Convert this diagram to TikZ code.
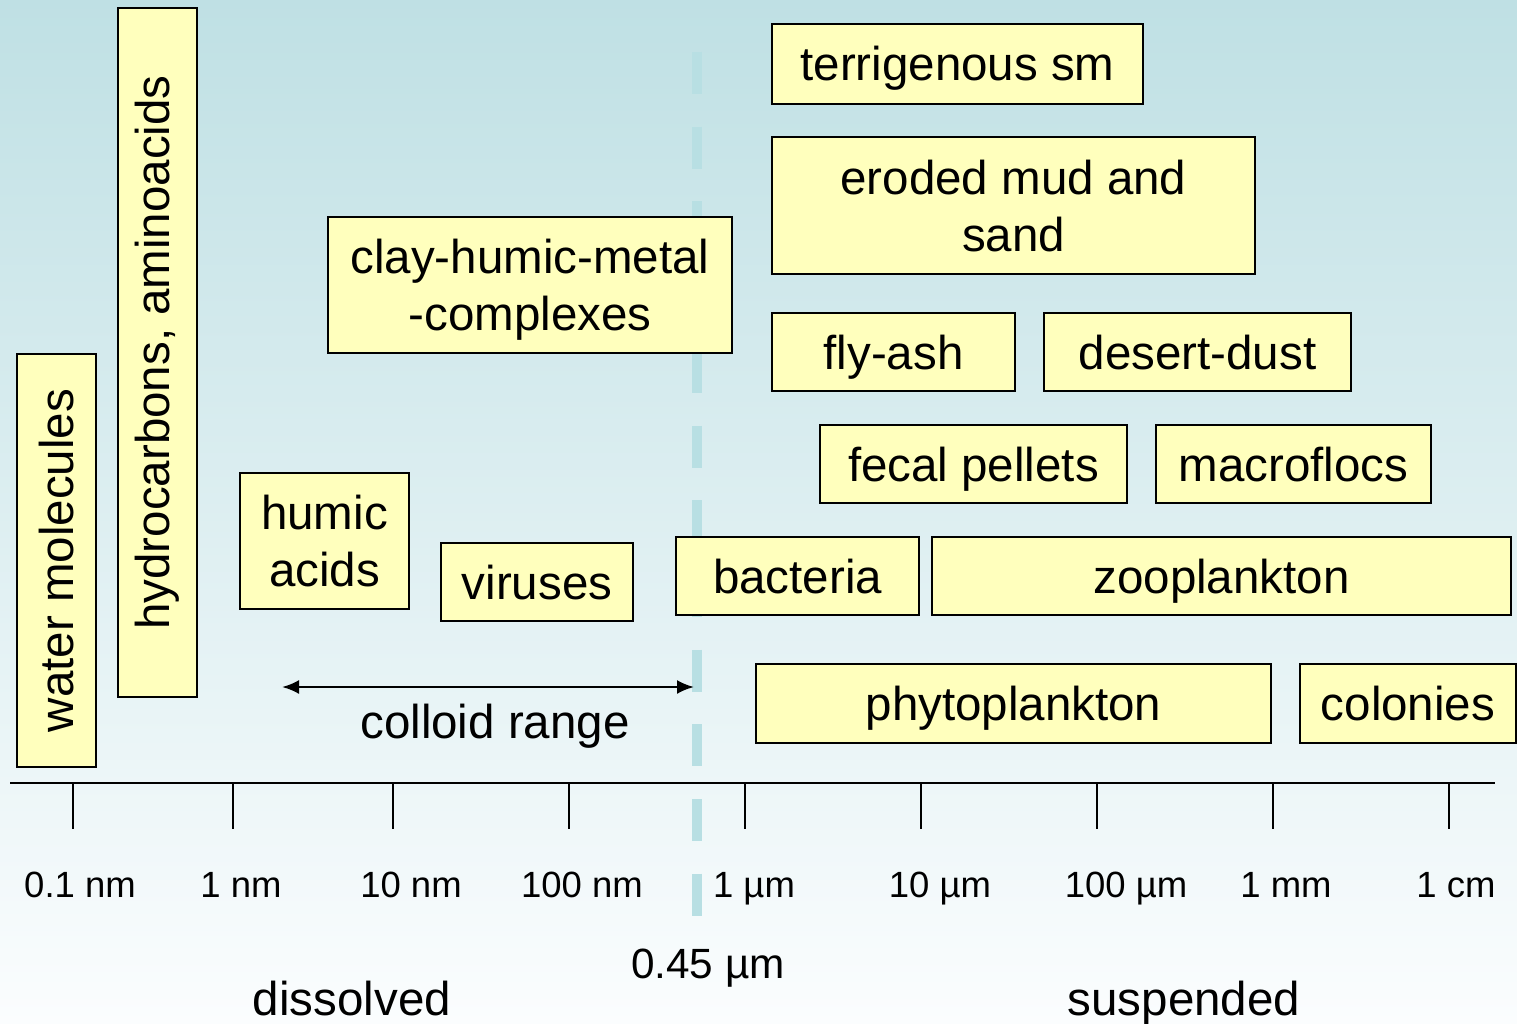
\documentclass[tikz,border=0pt]{standalone}
\usepackage{fontspec}
\setmainfont{Liberation Sans}
\usetikzlibrary{arrows.meta}
\definecolor{bgtop}{RGB}{191,224,228}
\definecolor{bgbot}{RGB}{251,253,254}
\definecolor{boxfill}{RGB}{255,255,189}
\definecolor{dashcol}{RGB}{184,223,227}
\tikzset{
  sbox/.style={draw=black, fill=boxfill, line width=2.5pt, inner sep=0pt, outer sep=0pt, align=center,
    text depth=0pt, font=\fontsize{47.5}{57}\selectfont},
  bigtxt/.style={inner sep=0pt, text depth=0pt, font=\fontsize{47.5}{57}\selectfont},
  ticktxt/.style={inner sep=0pt, text height=26pt, text depth=0pt, font=\fontsize{36.5}{44}\selectfont},
  midtxt/.style={inner sep=0pt, text height=30.3pt, text depth=0pt, font=\fontsize{42.3}{50}\selectfont},
  axisline/.style={line width=2.5pt, draw=black},
  dashline/.style={line width=10pt, draw=dashcol, dash pattern=on 42pt off 32.7pt},
}
\begin{document}
\begin{tikzpicture}[x=1pt,y=1pt]
\useasboundingbox (0,0) rectangle (1517,-1024);
\shade[top color=bgtop, bottom color=bgbot] (0,0) rectangle (1517,-1024);
% filter line
\coordinate (dtop) at (697,-52);
\coordinate (dbot) at (697,-916);
\draw[dashline] (dtop) -- (dbot);
% boxes
\node[sbox, minimum width=79pt, minimum height=413pt] (water) at (56.5,-560.5) {};
\node[bigtxt, rotate=90, text depth=] at (water.center) {water molecules};
\node[sbox, minimum width=79pt, minimum height=689pt] (hydro) at (157.5,-352.5) {};
\node[bigtxt, rotate=90, text depth=] at (hydro.center) {hydrocarbons, aminoacids};
\node[sbox, minimum width=404pt, minimum height=136pt] (clay) at (530,-285) {clay-humic-metal\\-complexes};
\node[sbox, minimum width=169pt, minimum height=136pt] (humic) at (324.5,-541) {humic\\acids};
\node[sbox, minimum width=192pt, minimum height=78pt] (viruses) at (537,-582) {viruses};
\node[sbox, minimum width=371pt, minimum height=80pt, text height=34pt] (terr) at (957.5,-64) {terrigenous sm};
\node[sbox, minimum width=483pt, minimum height=137pt] (eroded) at (1013.5,-205.5) {eroded mud and\\sand};
\node[sbox, minimum width=243pt, minimum height=78pt] (fly) at (893.5,-352) {fly-ash};
\node[sbox, minimum width=307pt, minimum height=78pt] (desert) at (1197.5,-352) {desert-dust};
\node[sbox, minimum width=307pt, minimum height=78pt] (fecal) at (973.5,-464) {fecal pellets};
\node[sbox, minimum width=275pt, minimum height=78pt] (macro) at (1293.5,-464) {macroflocs};
\node[sbox, minimum width=243pt, minimum height=78pt] (bact) at (797.5,-576) {bacteria};
\node[sbox, minimum width=579pt, minimum height=78pt] (zoo) at (1221.5,-576) {zooplankton};
\node[sbox, minimum width=515pt, minimum height=79pt] (phyto) at (1013.5,-703.5) {phytoplankton};
\node[sbox, minimum width=216pt, minimum height=79pt] (colon) at (1408,-703.5) {colonies};
% colloid range
\coordinate (cl) at (282,-687);
\coordinate (cr) at (694,-687);
\draw[axisline, {Latex[length=17pt,width=14pt]}-{Latex[length=17pt,width=14pt]}] (cl) -- (cr);
\node[bigtxt] (colloid) at (495,-721) {colloid range};
% axis
\coordinate (ax0) at (10,-783);
\coordinate (ax1) at (1495,-783);
\draw[axisline] (ax0) -- (ax1);
\foreach \x in {73,233,393,569,745,921,1097,1273,1449}
  \draw[axisline] (\x,-783) -- (\x,-829);
\node[ticktxt] (t1) at (80,-884) {0.1 nm};
\node[ticktxt] (t2) at (241,-884) {1 nm};
\node[ticktxt] (t3) at (411,-884) {10 nm};
\node[ticktxt] (t4) at (582,-884) {100 nm};
\node[ticktxt] (t5) at (754,-884) {1 µm};
\node[ticktxt] (t6) at (940,-884) {10 µm};
\node[ticktxt] (t7) at (1126,-884) {100 µm};
\node[ticktxt] (t8) at (1286,-884) {1 mm};
\node[ticktxt] (t9) at (1456,-884) {1 cm};
\node[midtxt] (filt) at (708,-963) {0.45 µm};
\node[bigtxt] (diss) at (352,-998) {dissolved};
\node[bigtxt] (susp) at (1184,-998) {suspended};
\end{tikzpicture}
\end{document}
